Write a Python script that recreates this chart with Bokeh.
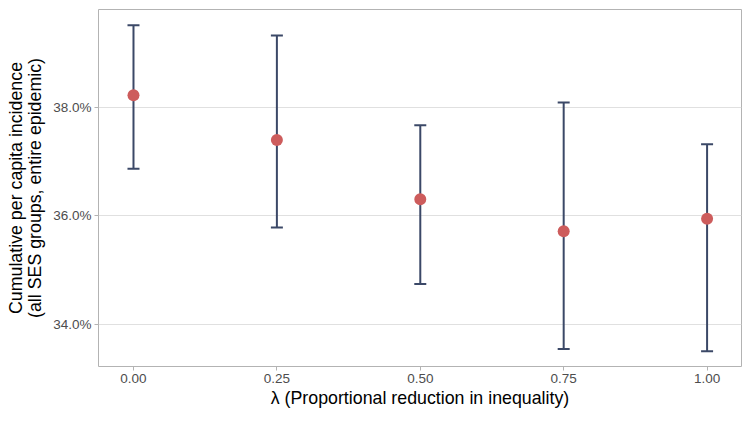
from bokeh.plotting import figure
from bokeh.models import (ColumnDataSource, Whisker, TeeHead, FixedTicker,
                          PrintfTickFormatter, Range1d)
from bokeh.embed import file_html
from bokeh.resources import INLINE

# data (percent)
lam = [0.00, 0.25, 0.50, 0.75, 1.00]
mean = [38.22, 37.40, 36.31, 35.72, 35.95]
lower = [36.87, 35.79, 34.75, 33.55, 33.51]
upper = [39.51, 39.32, 37.67, 38.09, 37.32]
x_ticks = [0.0, 0.25, 0.5, 0.75, 1.0]
x_tick_labels = ["0.00", "0.25", "0.50", "0.75", "1.00"]
y_ticks = [34.0, 36.0, 38.0]

src = ColumnDataSource(dict(x=lam, y=mean, lo=lower, hi=upper))

p = figure(width=745, height=415, output_backend="svg", toolbar_location=None,
           x_range=Range1d(-0.061, 1.06), y_range=Range1d(33.23, 39.80))
p.min_border_left = 98
p.min_border_right = 4
p.min_border_top = 9
p.min_border_bottom = 49

p.outline_line_color = "#b3b3b3"
p.outline_line_width = 1
p.background_fill_color = "white"
p.border_fill_color = "white"

navy = "#3b4867"
w = Whisker(source=src, base="x", lower="lo", upper="hi",
            line_color=navy, line_width=2,
            upper_head=TeeHead(size=12, line_color=navy, line_width=2),
            lower_head=TeeHead(size=12, line_color=navy, line_width=2))
p.add_layout(w)
p.scatter("x", "y", source=src, size=12, fill_color="#cd5c5c", line_color=None)

p.xgrid.visible = False
p.ygrid.grid_line_color = "#e0e0e0"
p.ygrid.grid_line_width = 1
p.ygrid.ticker = FixedTicker(ticks=y_ticks)

p.xaxis.ticker = FixedTicker(ticks=x_ticks)
p.xaxis.major_label_overrides = {t: l for t, l in zip(x_ticks, x_tick_labels)}
p.yaxis.ticker = FixedTicker(ticks=y_ticks)
p.yaxis.formatter = PrintfTickFormatter(format="%.1f%%")

for ax in (p.xaxis[0], p.yaxis[0]):
    ax.axis_line_color = None
    ax.major_tick_line_color = "#b3b3b3"
    ax.major_tick_in = 0
    ax.major_tick_out = 4
    ax.minor_tick_line_color = None
    ax.major_label_text_font = "Liberation Sans"
    ax.major_label_text_font_size = "13.5px"
    ax.major_label_text_color = "#4d4d4d"
    ax.axis_label_text_font = "Liberation Sans"
    ax.axis_label_text_font_size = "17.8px"
    ax.axis_label_text_font_style = "normal"
    ax.axis_label_text_color = "black"
    ax.major_label_standoff = 3

p.xaxis.axis_label = "λ (Proportional reduction in inequality)"
p.yaxis.axis_label = "Cumulative per capita incidence\n(all SES groups, entire epidemic)"
p.yaxis.axis_label_text_line_height = 0.95
p.xaxis.axis_label_standoff = 2
p.yaxis.axis_label_standoff = 5

open("out.html", "w").write(file_html(p, INLINE))
